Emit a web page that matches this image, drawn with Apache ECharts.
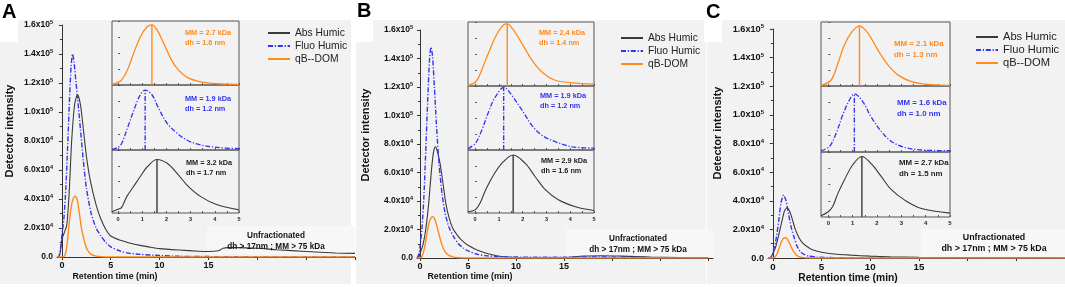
<!DOCTYPE html>
<html>
<head>
<meta charset="utf-8">
<script src="https://cdn.jsdelivr.net/npm/echarts@6/dist/echarts.min.js"></script>
<style>
  html, body { margin: 0; padding: 0; background: #fff; }
  #chart { width: 1065px; height: 287px; }
</style>
</head>
<body>
<div id="chart"></div>
<script>
// ---- axis ticks ----
const yTickValues = [0, 20000, 40000, 60000, 80000, 100000, 120000, 140000, 160000];
const yTickMant = ['0.0', '2.0', '4.0', '6.0', '8.0', '1.0', '1.2', '1.4', '1.6'];
const yTickExp = ['', '4', '4', '4', '4', '5', '5', '5', '5'];
const xTickLabels = [0, 5, 10, 15];
const xTickMarks = [0, 5, 10, 15, 20, 25, 30];
const insetLabels = [0, 1, 2, 3, 4, 5];
const insetTickMarks = [0, 0.5, 1, 1.5, 2, 2.5, 3, 3.5, 4, 4.5, 5];

// ---- names ----
const seriesNamesA = ['Abs Humic', 'Fluo Humic', 'qB--DOM'];
const seriesNamesB = ['Abs Humic', 'Fluo Humic', 'qB-DOM'];
const seriesNamesC = ['Abs Humic', 'Fluo Humic', 'qB--DOM'];

// ---- panel A, retention time (min) vs detector intensity ----
const absA = [[-0.5,0],[-0.3,0],[-0.15,4000],[0,12000],[0.2,16000],[0.5,22000],[0.75,45000],[1.0,80000],[1.3,105000],[1.6,112000],[1.9,105000],[2.2,88000],[2.5,70000],[2.9,53000],[3.5,36000],[4,26000],[4.5,19000],[5,14500],[6,11500],[7,9500],[8,8000],[9,6800],[10,5800],[12,4800],[14,4000],[15,3800],[16,4300],[16.5,6000],[17,6500],[18,6500],[20,6000],[22,5000],[25,3800],[28,2800],[30,2500]];
const fluoA = [[-0.5,0],[-0.3,500],[-0.1,8000],[0,15000],[0.2,26000],[0.4,47000],[0.6,78000],[0.8,112000],[0.95,132000],[1.1,140000],[1.25,134000],[1.45,120000],[1.6,110000],[1.9,88000],[2.2,66000],[2.5,48000],[3,30000],[3.5,20000],[4,14500],[4.5,10000],[5,7000],[6,4000],[7,2500],[8,1800],[10,1000],[12,500],[15,300],[20,100],[30,0]];
const qbA = [[-0.5,0],[0.1,0],[0.3,1000],[0.5,7000],[0.7,20000],[0.9,32000],[1.1,39000],[1.35,42000],[1.55,40000],[1.75,32000],[2.0,20000],[2.3,11000],[2.6,5000],[3.0,1800],[3.5,600],[4,200],[5,0],[30,0]];

// ---- panel B ----
const absB = [[-0.3,0],[-0.1,1000],[0,3000],[0.3,9000],[0.6,20000],[0.9,38000],[1.2,62000],[1.4,74000],[1.6,78000],[1.8,75000],[2.1,66000],[2.4,52000],[2.7,38000],[3.0,29000],[3.4,21000],[4,15000],[4.5,11500],[5,9000],[6,5500],[7,3200],[8,1600],[9,700],[10,300],[12,200],[15,300],[16,800],[17,1400],[19,1600],[21,1300],[24,700],[27,300],[30,100]];
const fluoB = [[-0.3,0],[-0.1,3000],[0,8000],[0.2,20000],[0.4,42000],[0.6,75000],[0.8,110000],[1.0,140000],[1.15,148000],[1.3,142000],[1.5,120000],[1.7,95000],[2.0,65000],[2.3,45000],[2.6,32000],[3,22000],[3.5,15000],[4,10000],[4.5,7000],[5,5000],[6,2500],[7,1500],[8,1000],[10,700],[12,500],[15,500],[18,800],[20,600],[25,200],[30,0]];
const qbB = [[-0.3,0],[0,0],[0.2,1000],[0.4,5000],[0.6,12000],[0.8,20000],[1.0,26000],[1.3,29000],[1.5,28000],[1.7,24000],[2.0,16000],[2.3,9000],[2.6,4500],[3,1800],[3.5,600],[4,200],[5,0],[30,0]];

// ---- panel C ----
const absC = [[-0.5,0],[-0.3,0],[0,3000],[0.3,8000],[0.6,16000],[0.9,25000],[1.2,33000],[1.45,35000],[1.7,33000],[2.0,27000],[2.3,20000],[2.7,14000],[3.0,11000],[3.5,8000],[4,6000],[5,4000],[6,3000],[8,2000],[10,1300],[12,900],[15,500],[18,300],[20,200],[25,100],[30,0]];
const fluoC = [[-0.5,0],[-0.2,500],[0,4000],[0.3,12000],[0.6,26000],[0.85,39000],[1.1,44000],[1.35,40000],[1.6,31000],[1.9,21000],[2.2,14000],[2.5,8000],[2.8,4500],[3.2,2500],[3.7,1300],[4.5,600],[6,300],[8,100],[10,0],[30,0]];
const qbC = [[-0.5,0],[0,0],[0.2,500],[0.4,2500],[0.6,6000],[0.85,11000],[1.05,13500],[1.25,14200],[1.45,13500],[1.7,10500],[2.0,6000],[2.3,3000],[2.6,1200],[3,400],[3.5,100],[4,0],[30,0]];

// ---- insets (normalised), top: qB-DOM, middle: Fluo, bottom: Abs ----
const insQbA = [[-0.25,0.01],[0,0.04],[0.15,0.08],[0.36,0.21],[0.64,0.49],[0.92,0.75],[1.2,0.91],[1.4,0.94],[1.61,0.86],[1.89,0.65],[2.17,0.42],[2.44,0.26],[2.86,0.12],[3.42,0.05],[4.1,0.02],[5,0.01]];
const insFluoA = [[-0.25,0.01],[0,0.04],[0.15,0.10],[0.43,0.38],[0.71,0.67],[0.92,0.85],[1.12,0.92],[1.4,0.85],[1.68,0.64],[2.03,0.41],[2.44,0.26],[2.86,0.15],[3.4,0.08],[4.1,0.04],[5,0.02]];
const insAbsA = [[-0.25,0.02],[0,0.06],[0.15,0.09],[0.36,0.26],[0.64,0.42],[0.92,0.58],[1.2,0.73],[1.61,0.85],[2.03,0.79],[2.44,0.63],[2.86,0.44],[3.42,0.26],[4.1,0.13],[5,0.05]];
const peaksA = [[1.4,0.94],[1.12,0.92],[1.61,0.85]];

const insQbB = [[-0.3,0.01],[0.04,0.07],[0.33,0.30],[0.61,0.56],[0.9,0.80],[1.18,0.95],[1.35,0.97],[1.6,0.88],[1.96,0.67],[2.38,0.41],[2.81,0.22],[3.37,0.09],[4.08,0.05],[5,0.03]];
const insFluoB = [[-0.3,0.02],[0,0.10],[0.28,0.31],[0.54,0.57],[0.82,0.81],[1.22,0.98],[1.53,0.86],[1.96,0.63],[2.38,0.39],[2.81,0.23],[3.37,0.13],[4.08,0.05],[5,0.03]];
const insAbsB = [[-0.3,0.02],[0,0.05],[0.2,0.15],[0.47,0.39],[0.82,0.63],[1.18,0.81],[1.6,0.92],[2.1,0.79],[2.52,0.58],[2.95,0.37],[3.5,0.21],[4.22,0.10],[5,0.04]];
const peaksB = [[1.35,0.97],[1.2,0.98],[1.6,0.92]];

const insQbC = [[-0.3,0.01],[0.11,0.09],[0.39,0.35],[0.66,0.64],[0.94,0.83],[1.28,0.94],[1.62,0.83],[2.04,0.56],[2.45,0.33],[2.87,0.17],[3.42,0.07],[4.25,0.02],[5,0.01]];
const insFluoC = [[-0.3,0.02],[0.04,0.08],[0.32,0.28],[0.59,0.56],[0.87,0.79],[1.07,0.88],[1.42,0.76],[1.76,0.53],[2.18,0.31],[2.59,0.16],[3.14,0.07],[3.83,0.03],[5,0.02]];
const insAbsC = [[-0.3,0.02],[0,0.08],[0.18,0.16],[0.39,0.36],[0.66,0.57],[1.0,0.80],[1.38,0.93],[1.76,0.82],[2.18,0.62],[2.59,0.42],[3.14,0.26],[3.83,0.13],[5,0.06]];
const peaksC = [[1.28,0.94],[1.07,0.88],[1.38,0.93]];

// ---- annotation texts ----
const mmTextA = ['MM = 2.7 kDa\ndh = 1.6 nm', 'MM = 1.9 kDa\ndh = 1.2 nm', 'MM = 3.2 kDa\ndh = 1.7 nm'];
const mmTextB = ['MM = 2.4 kDa\ndh = 1.4 nm', 'MM = 1.9 kDa\ndh = 1.2 nm', 'MM = 2.9 kDa\ndh = 1.6 nm'];
const mmTextC = ['MM = 2.1 kDa\ndh = 1.3 nm', 'MM = 1.6 kDa\ndh = 1.0 nm', 'MM = 2.7 kDa\ndh = 1.5 nm'];
const unfracText = 'Unfractionated\ndh > 17nm ; MM > 75 kDa';
const panelLetters = ['A', 'B', 'C'];

// ---- layout ----
const FONT = '"Liberation Sans", Arial, sans-serif';
const COL_ABS = '#3a3a3a', COL_FLUO = '#3434f0', COL_QB = '#ff8a1e';
const COLS = [COL_ABS, COL_FLUO, COL_QB];
const DASHDOT = [5, 1.8, 1.2, 1.8];

const panels = [
  { letter: [2, 2], main: { left: 57, top: 25, width: 298, height: 232 }, xMin: -0.5, xMax: 30,
    inset: { left: 112, width: 127, xMin: -0.25, rows: [[21, 85], [85, 150], [150, 213]] },
    legend: { left: 262, top: 22 }, mmPos: [[185, 38], [185, 104], [186, 168]],
    unfrac: [276, 241], box: [207, 226, 148, 28], yName: [10, 131], xName: [115, 277],
    curves: [absA, fluoA, qbA], names: seriesNamesA,
    ins: [insQbA, insFluoA, insAbsA], peaks: peaksA, mm: mmTextA, fs: 1 },
  { letter: [357, 1], main: { left: 417, top: 30, width: 296, height: 228 }, xMin: -0.31, xMax: 30.5,
    inset: { left: 468, width: 126, xMin: -0.3, rows: [[22, 86], [86, 150], [150, 213]] },
    legend: { left: 615, top: 27 }, mmPos: [[539, 38], [540, 101], [541, 166]],
    unfrac: [638, 244], box: [566, 229, 147, 28], yName: [366, 135], xName: [470, 277],
    curves: [absB, fluoB, qbB], names: seriesNamesB,
    ins: [insQbB, insFluoB, insAbsB], peaks: peaksB, mm: mmTextB, fs: 1 },
  { letter: [706, 2], main: { left: 768, top: 29, width: 297, height: 229 }, xMin: -0.5, xMax: 30,
    inset: { left: 821, width: 129, xMin: -0.3, rows: [[22, 86], [86, 152], [152, 217]] },
    legend: { left: 970, top: 26 }, mmPos: [[894, 49], [897, 108], [899, 168]],
    unfrac: [994, 243], box: [921, 229, 144, 28], yName: [718, 133], xName: [848, 278],
    curves: [absC, fluoC, qbC], names: seriesNamesC,
    ins: [insQbC, insFluoC, insAbsC], peaks: peaksC, mm: mmTextC, fs: 1.08 }
];

const grids = [], xAxes = [], yAxes = [], series = [], legends = [], graphics = [];

// panel backgrounds
[[0, 20, 351, 264], [356, 20, 350, 264], [707, 20, 358, 264]].forEach(r => {
  graphics.push({ type: 'rect', z: -10, shape: { x: r[0], y: r[1], width: r[2], height: r[3] }, style: { fill: '#f2f2f2' } });
});

panels.forEach((p, pi) => {
  const g0 = grids.length;
  // main grid
  grids.push(Object.assign({ show: false }, p.main));
  xAxes.push({
    gridIndex: g0, type: 'value', min: p.xMin, max: p.xMax,
    axisLine: { onZero: false, lineStyle: { color: '#333', width: 1 } },
    axisTick: { customValues: xTickMarks, length: 3, lineStyle: { color: '#333' } },
    axisLabel: { customValues: xTickLabels, fontSize: 9 * p.fs, fontWeight: 'bold', fontFamily: FONT, color: '#111', margin: 4 },
    splitLine: { show: false }
  });
  yAxes.push({
    gridIndex: g0, type: 'value', min: 0, max: 160000, interval: 20000,
    axisLine: { show: true, lineStyle: { color: '#333', width: 1 } },
    axisTick: { show: true, length: 3, lineStyle: { color: '#333' } },
    minorTick: { show: true, splitNumber: 2, length: 2, lineStyle: { color: '#333' } },
    splitLine: { show: false },
    axisLabel: {
      margin: 4,
      formatter: v => {
        const i = Math.round(v / 20000);
        return yTickExp[i] ? '{m|' + yTickMant[i] + 'x10}{s|' + yTickExp[i] + '}' : '{m|' + yTickMant[i] + '}';
      },
      rich: {
        m: { fontSize: 8.5 * p.fs, fontWeight: 'bold', fontFamily: FONT, color: '#111', lineHeight: 11 },
        s: { fontSize: 5.5 * p.fs, fontWeight: 'bold', fontFamily: FONT, color: '#111', lineHeight: 6, verticalAlign: 'top' }
      }
    }
  });
  p.curves.forEach((d, ci) => {
    series.push({
      type: 'line', name: p.names[ci], xAxisIndex: g0, yAxisIndex: g0, data: d,
      symbol: 'none', smooth: 0.25, z: 3 + ci,
      lineStyle: { color: COLS[ci], width: ci === 0 ? 1.1 : 1.4, type: ci === 1 ? DASHDOT : 'solid' },
      itemStyle: { color: COLS[ci] }
    });
  });
  legends.push({
    left: p.legend.left, top: p.legend.top, orient: 'vertical', selectedMode: false,
    itemWidth: 22, itemHeight: 2, itemGap: 1, data: p.names,
    itemStyle: { opacity: 0, borderWidth: 0 },
    textStyle: { fontSize: 10.3 * p.fs, fontFamily: FONT, color: '#222', lineHeight: 12 }
  });

  // insets: top orange, middle blue, bottom black
  const insCols = [COL_QB, COL_FLUO, COL_ABS];
  p.inset.rows.forEach((r, ri) => {
    const gi = grids.length;
    grids.push({ show: true, left: p.inset.left, top: r[0], width: p.inset.width, height: r[1] - r[0],
      borderColor: '#555', borderWidth: 1, backgroundColor: 'transparent' });
    xAxes.push({
      gridIndex: gi, type: 'value', min: p.inset.xMin, max: 5,
      axisLine: { show: false },
      axisTick: { inside: true, length: 2, customValues: insetTickMarks, lineStyle: { color: '#555' } },
      axisLabel: { show: ri === 2, customValues: insetLabels, fontSize: 5.5 * p.fs, fontWeight: 'bold', fontFamily: FONT, color: '#222', margin: 3 },
      splitLine: { show: false }
    });
    yAxes.push({
      gridIndex: gi, type: 'value', min: 0, max: 1, interval: 0.25,
      axisLine: { show: false },
      axisTick: { inside: true, length: 2, lineStyle: { color: '#555' } },
      axisLabel: { show: false }, splitLine: { show: false }
    });
    const ltype = ri === 1 ? DASHDOT : 'solid';
    series.push({
      type: 'line', xAxisIndex: gi, yAxisIndex: gi, data: p.ins[ri], symbol: 'none', smooth: 0.35,
      lineStyle: { color: insCols[ri], width: ri === 2 ? 1.1 : 1.3, type: ltype }, silent: true
    });
    const pk = p.peaks[ri];
    series.push({
      type: 'line', xAxisIndex: gi, yAxisIndex: gi, data: [[pk[0], 0], [pk[0], pk[1]]], symbol: 'none',
      lineStyle: { color: insCols[ri], width: 1.4, type: ltype }, silent: true
    });
    graphics.push({
      type: 'text', x: p.mmPos[ri][0], y: p.mmPos[ri][1], z: 20,
      style: { text: p.mm[ri], fill: insCols[ri] === COL_ABS ? '#222' : insCols[ri],
        font: 'bold ' + (7.3 * p.fs) + 'px ' + FONT, lineHeight: 10.5 * p.fs,
        textAlign: 'left', textVerticalAlign: 'middle', align: 'left', verticalAlign: 'middle' }
    });
  });

  // unfractionated note
  graphics.push({ type: 'rect', z: -5, shape: { x: p.box[0], y: p.box[1], width: p.box[2], height: p.box[3] }, style: { fill: '#f7f7f7' } });
  graphics.push({
    type: 'text', x: p.unfrac[0], y: p.unfrac[1], z: 20,
    style: { text: unfracText, fill: '#111', font: 'bold ' + (8.2 * p.fs) + 'px ' + FONT, lineHeight: 11.5,
      textAlign: 'center', textVerticalAlign: 'middle', align: 'center', verticalAlign: 'middle' }
  });
  // axis names
  graphics.push({
    type: 'text', x: p.yName[0], y: p.yName[1], rotation: Math.PI / 2, z: 20,
    style: { text: 'Detector intensity', fill: '#111', font: 'bold 11px ' + FONT,
      textAlign: 'center', textVerticalAlign: 'middle', align: 'center', verticalAlign: 'middle' }
  });
  graphics.push({
    type: 'text', x: p.xName[0], y: p.xName[1], z: 20,
    style: { text: 'Retention time (min)', fill: '#111', font: 'bold ' + (pi === 2 ? 10.3 : 8.8) + 'px ' + FONT,
      textAlign: 'center', textVerticalAlign: 'middle', align: 'center', verticalAlign: 'middle' }
  });
  // panel letter
  graphics.push({ type: 'rect', z: -6, shape: { x: p.letter[0] - 2, y: 18, width: 18, height: 24 }, style: { fill: '#fff' } });
  graphics.push({
    type: 'text', x: p.letter[0], y: p.letter[1], z: 20,
    style: { text: panelLetters[pi], fill: '#000', font: 'bold 20px ' + FONT, textAlign: 'left', textVerticalAlign: 'top', align: 'left', verticalAlign: 'top' }
  });
});

const chart = echarts.init(document.getElementById('chart'));
chart.setOption({
  animation: false,
  backgroundColor: '#fff',
  grid: grids,
  xAxis: xAxes,
  yAxis: yAxes,
  legend: legends,
  series: series,
  graphic: graphics
});
</script>
</body>
</html>
